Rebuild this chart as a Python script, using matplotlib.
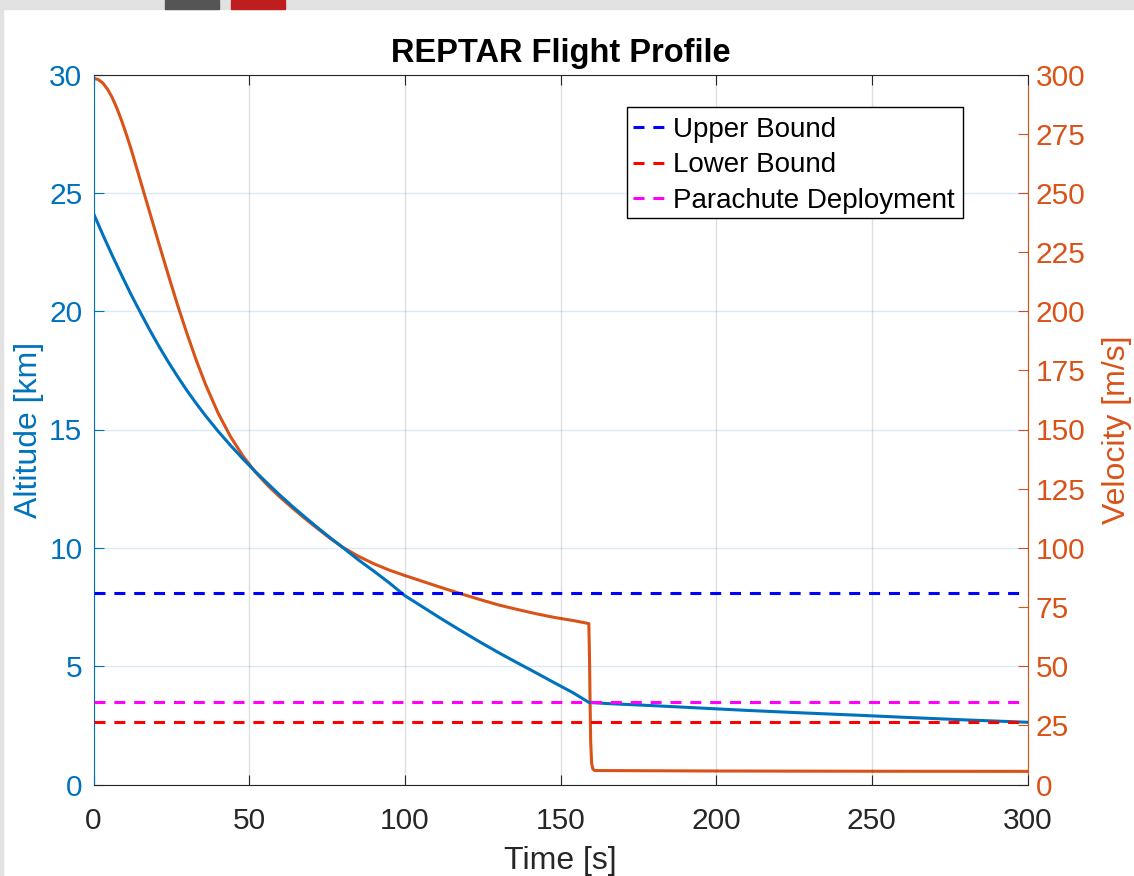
import matplotlib.pyplot as plt
from matplotlib.patches import Rectangle

plt.rcParams['font.family'] = ['Liberation Sans', 'DejaVu Sans']

# Altitude trace [km]
alt_time = [0, 3, 6, 9, 12, 15, 18, 21, 24, 27, 30, 33, 36, 40, 44, 48, 52, 56, 60, 64, 68, 72,
            76, 80, 85, 90, 95, 100, 106, 112, 118, 124, 130, 136, 142, 148, 154, 159.1,
            160, 165, 180, 195, 210, 227, 245, 262, 280, 300]
altitude = [24.13, 23.23, 22.36, 21.53, 20.72, 19.96, 19.22, 18.52, 17.86, 17.24, 16.65, 16.10,
            15.58, 14.93, 14.33, 13.76, 13.22, 12.71, 12.21, 11.74, 11.29, 10.85, 10.43, 10.02,
            9.50, 9.02, 8.52, 7.98, 7.48, 6.98, 6.50, 6.03, 5.58, 5.15, 4.73, 4.30, 3.88, 3.47,
            3.46, 3.42, 3.33, 3.23, 3.13, 3.03, 2.93, 2.83, 2.73, 2.63]

# Velocity trace [m/s]
vel_time = [0, 1.5, 3, 4.5, 6, 7.5, 9, 10.5, 12, 15, 18, 21, 24, 27, 30, 33, 36, 40, 44, 48, 52,
            56, 60, 64, 68, 72, 76, 80, 85, 90, 95, 100, 106, 112, 118, 124, 130, 136, 142, 148,
            154, 159.1, 159.3, 159.5, 159.7, 160.0, 160.4, 161, 200, 250, 300]
velocity = [298.4, 297.9, 296.4, 293.8, 290.3, 285.8, 280.6, 274.9, 268.8, 255.4, 242.0, 228.6,
            215.4, 202.6, 190.6, 179.3, 169.0, 157.0, 147.0, 138.8, 132.0, 126.3, 121.3, 116.7,
            112.3, 108.1, 104.0, 100.3, 96.5, 93.3, 90.6, 88.3, 85.7, 83.1, 80.6, 78.2, 75.9,
            74.0, 72.2, 70.6, 69.3, 68.0, 55.0, 35.0, 18.0, 9.0, 6.5, 5.9, 5.7, 5.6, 5.55]

# Reference altitudes [km]
bound_names = ['Upper Bound', 'Lower Bound', 'Parachute Deployment']
bound_values = [8.1, 2.64, 3.47]
bound_colors = ['#0000ff', '#ff0000', '#ff00ff']

BLUE = '#0072BD'
ORANGE = '#D95319'
DARK = '#262626'
W, H = 1134, 876

fig = plt.figure(figsize=(W / 100, H / 100), dpi=100)

# screenshot strip along the top
fig.patches.append(Rectangle((0, 1 - 9 / H), 1, 9 / H, transform=fig.transFigure,
                             color='#e2e2e2', zorder=-1))
fig.patches.append(Rectangle((0, 0), 3 / W, 1, transform=fig.transFigure,
                             color='#e2e2e2', zorder=-1))
fig.patches.append(Rectangle((165 / W, 1 - 9 / H), 54 / W, 9 / H,
                             transform=fig.transFigure, color='#555555', zorder=0))
fig.patches.append(Rectangle((231 / W, 1 - 9 / H), 54 / W, 9 / H,
                             transform=fig.transFigure, color='#bf1e1e', zorder=0))

ax = fig.add_axes([93.5 / W, 91.5 / H, 934 / W, 710 / H])
ax2 = ax.twinx()

ax.plot(alt_time, altitude, color=BLUE, lw=2.2, zorder=3)
for name, val, col in zip(bound_names, bound_values, bound_colors):
    ax.plot([0, 300], [val, val], color=col, lw=2.2, dashes=(3.6, 2.9), label=name, zorder=3)
ax2.plot(vel_time, velocity, color=ORANGE, lw=2.2, zorder=3)

ax.set_xlim(0, 300)
ax.set_ylim(0, 30)
ax2.set_ylim(0, 300)
ax.set_xticks(range(0, 301, 50))
ax.set_yticks(range(0, 31, 5))
ax2.set_yticks(range(0, 301, 25))

# grid: vertical gray, horizontal tinted with the left axis colour
ax.xaxis.grid(True, color=DARK, alpha=0.15, lw=1)
ax.yaxis.grid(True, color=BLUE, alpha=0.15, lw=1)
ax.set_axisbelow(True)

for s in ['top', 'bottom']:
    ax.spines[s].set_color(DARK)
    ax2.spines[s].set_visible(False)
ax.spines['left'].set_color(BLUE)
ax.spines['right'].set_visible(False)
ax2.spines['left'].set_visible(False)
ax2.spines['right'].set_color(ORANGE)

ax.tick_params(axis='x', direction='in', top=True, length=7, colors=DARK, labelsize=21.5, pad=16)
ax.tick_params(axis='y', direction='in', length=7, colors=BLUE, labelsize=21.5, pad=8)
ax2.tick_params(axis='y', direction='in', length=7, colors=ORANGE, labelsize=21.5, pad=6)

ax.set_xlabel('Time [s]', fontsize=23, color=DARK, labelpad=8)
ax.set_ylabel('Altitude [km]', fontsize=23, color=BLUE, labelpad=4)
ax2.set_ylabel('Velocity [m/s]', fontsize=23, color=ORANGE, labelpad=12)
ax.set_title('REPTAR Flight Profile', fontsize=23.5, fontweight='bold', color='black', pad=9)

# legend box drawn separately so its padding matches the reference
box = Rectangle((627 / W, 1 - 218 / H), 336 / W, 111 / H, transform=fig.transFigure,
                facecolor='white', edgecolor='black', lw=1, zorder=9, clip_on=False)
ax.add_patch(box)
leg = ax.legend(loc='upper left', bbox_to_anchor=(633 / W, 1 - 117 / H),
                bbox_transform=fig.transFigure, fontsize=20, frameon=False,
                handlelength=1.15, handletextpad=0.29, labelspacing=0.34, borderpad=0,
                borderaxespad=0)
leg.set_zorder(10)
ax.set_zorder(ax2.get_zorder() + 1)
ax.patch.set_visible(False)

fig.savefig('out.png', dpi=100, facecolor='white')
